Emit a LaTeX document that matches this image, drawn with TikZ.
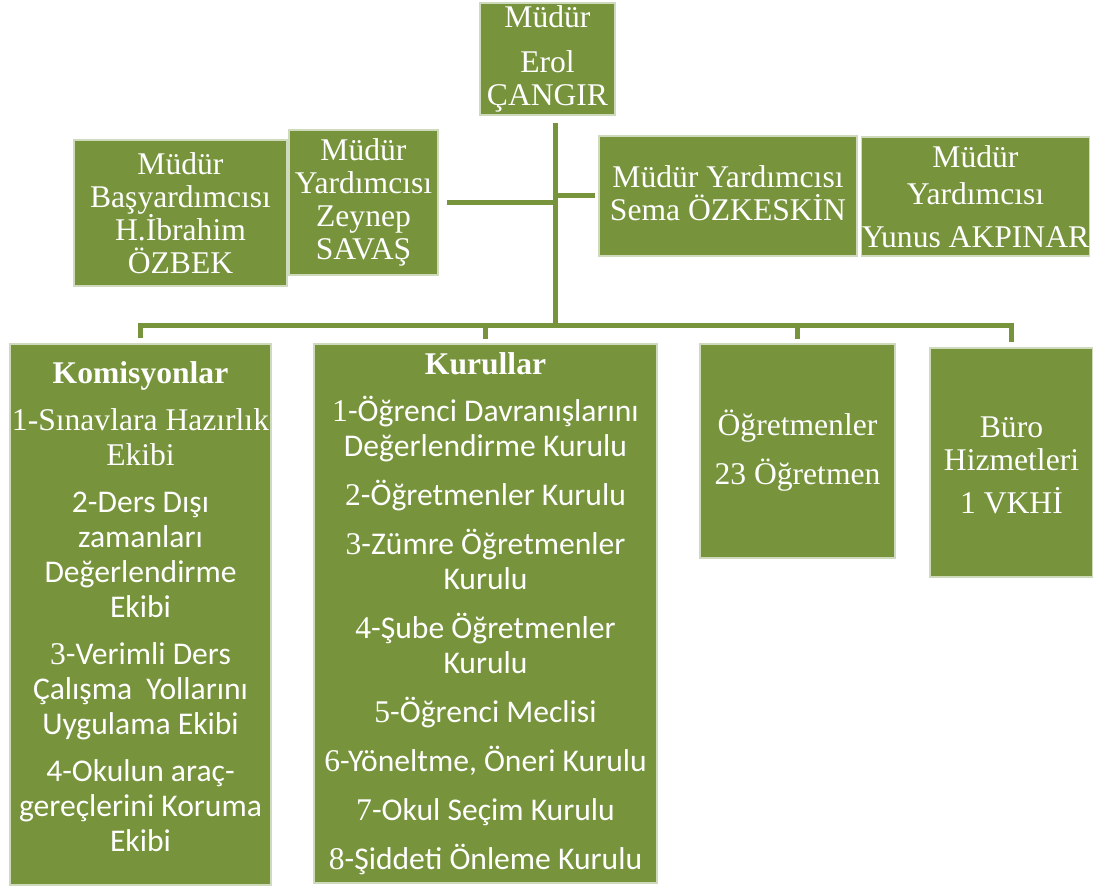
\documentclass[tikz,border=0pt]{standalone}
\usepackage{fontspec}
\setmainfont{Liberation Serif}
\newfontfamily\calibri{Carlito}
\usepackage{tikz}
\usetikzlibrary{calc}
\definecolor{olivegr}{RGB}{119,147,60}

\begin{document}
\begin{tikzpicture}[
x=0.5pt, y=-0.5pt,
box/.style={
	draw=white!65!olivegr, line width=0.6pt,
	fill=olivegr, text=white,
	align=center, inner sep=0pt,
	font=\fontsize{15.8}{16.5}\selectfont
},
sans/.style={box, font=\calibri\fontsize{15.8}{17.5}\selectfont},
conn/.style={draw=olivegr, line width=2.5pt}
]
\useasboundingbox (0,0) rectangle (1093,888);
% top row
\node[box, minimum width=67.5pt, minimum height=56pt] (mudur) at (547.5,59)
	{Müdür\\[6pt] Erol\\ ÇANGIR};
\node[box, minimum width=106.5pt, minimum height=73pt] (basyrd) at (180.5,213)
	{Müdür\\ Başyardımcısı\\ H.İbrahim\\ ÖZBEK};
\node[box, minimum width=74.5pt, minimum height=72.5pt] (zeynep) at (363.5,202.5)
	{Müdür\\ Yardımcısı\\ Zeynep\\ SAVAŞ};
\node[box, minimum width=129pt, minimum height=60pt] (sema) at (728,196)
	{Müdür Yardımcısı\\ Sema ÖZKESKİN\rule[-3pt]{0pt}{0pt}};
\node[box, minimum width=113.5pt, minimum height=59.5pt] (yunus) at (975.5,196.5)
	{Müdür\\[2pt] Yardımcısı\\[5pt] Yunus AKPINAR};
% bottom row
\node[sans, minimum width=130.5pt, minimum height=270.5pt] (komisyon) at (140.5,614.5)
	{{\rmfamily\bfseries Komisyonlar}\\[6pt]
	{\rmfamily 1-Sınavlara Hazırlık}\\ {\rmfamily Ekibi}\\[6pt]
	2-Ders Dışı\\ zamanları\\ Değerlendirme\\ Ekibi\\[6pt]
	{\rmfamily 3}-Verimli Ders\\ Çalışma~ Yollarını\\ Uygulama Ekibi\\[6pt]
	4-Okulun araç-\\ gereçlerini Koruma\\ Ekibi\rule[-8pt]{0pt}{0pt}};
\node[sans, minimum width=171.5pt, minimum height=269.5pt] (kurul) at (485.5,613.5)
	{{\rmfamily\bfseries Kurullar}\\[6pt]
	{\rmfamily 1}-Öğrenci Davranışlarını\\ Değerlendirme Kurulu\\[7pt]
	{\rmfamily 2}-Öğretmenler Kurulu\\[7pt]
	{\rmfamily 3}-Zümre Öğretmenler\\ Kurulu\\[7pt]
	{\rmfamily 4}-Şube Öğretmenler\\ Kurulu\\[7pt]
	{\rmfamily 5}-Öğrenci Meclisi\\[7pt]
	{\rmfamily 6}-Yöneltme, Öneri Kurulu\\[7pt]
	{\rmfamily 7}-Okul Seçim Kurulu\\[7pt]
	{\rmfamily 8}-Şiddeti Önleme Kurulu};
\node[box, minimum width=97.5pt, minimum height=107pt] (ogretmen) at (797.5,451)
	{Öğretmenler\\[8pt] 23 Öğretmen};
\node[box, minimum width=81.5pt, minimum height=114.5pt] (buro) at (1011.5,462.5)
	{\rule{0pt}{13.5pt}Büro\\ Hizmetleri\\[5pt] 1 VKHİ};
% connectors
\coordinate (hub) at (555,325);
\draw[conn, shorten <=3.5pt] (mudur.south -| hub) -- (hub);
\draw[conn, shorten <=4pt] (zeynep.east) -- (zeynep.east -| hub);
\draw[conn, shorten >=1.5pt] (sema.west -| hub) -- (sema.west);
\draw[conn, shorten <=2.5pt, shorten >=2.5pt] (komisyon.north) |- (hub) -| (buro.north);
\draw[conn, shorten >=2pt] (hub -| kurul.north) -- (kurul.north);
\draw[conn, shorten >=2pt] (hub -| ogretmen.north) -- (ogretmen.north);
\end{tikzpicture}
\end{document}
